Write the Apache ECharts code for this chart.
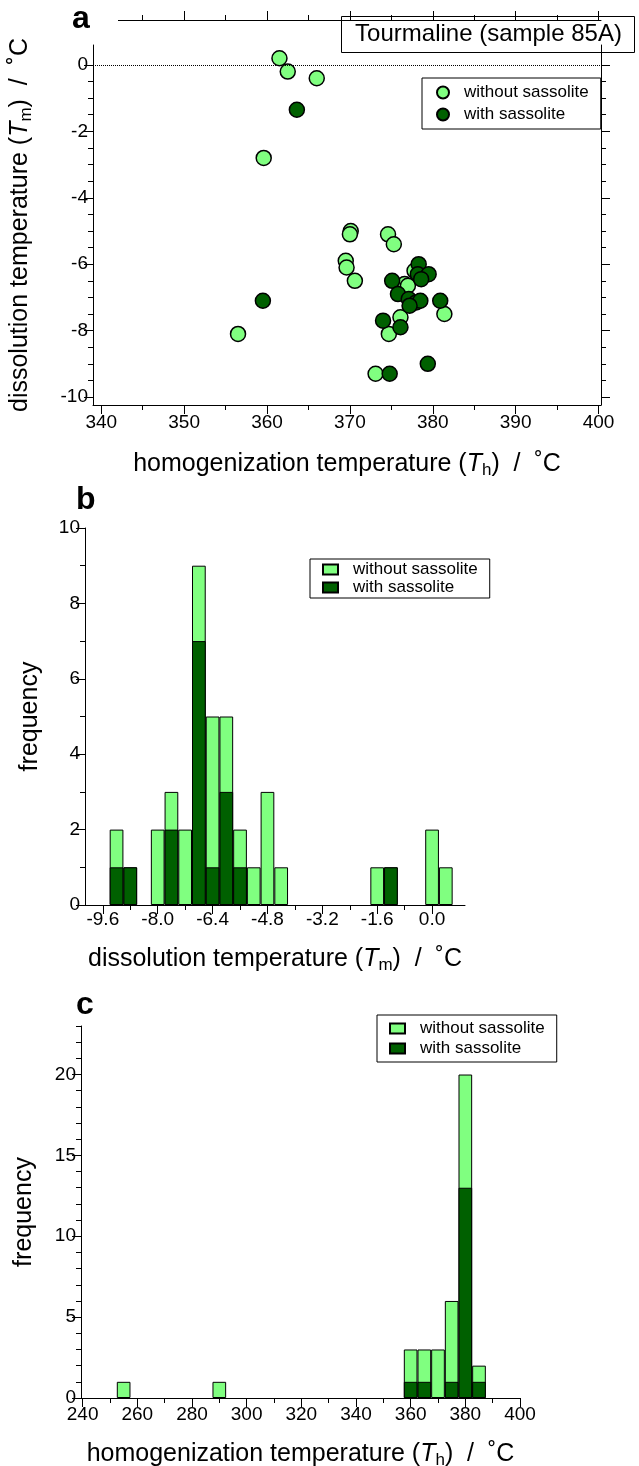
<!DOCTYPE html>
<html>
<head>
<meta charset="utf-8">
<script src="https://cdn.jsdelivr.net/npm/echarts@6/dist/echarts.min.js"></script>
<style>
  html, body { margin: 0; padding: 0; background: #fff; }
  #main { width: 639px; height: 1466px; }
</style>
</head>
<body>
<div id="main"></div>
<script>
// a: homogenization temperature (Th) vs dissolution temperature (Tm), degC
var thWithout = [361.5, 362.5, 366.0, 359.6, 356.5, 370.1, 370.0, 374.6, 375.3, 369.5,
                 369.6, 370.6, 377.8, 376.6, 377.0, 376.1, 374.7, 381.4, 373.1];
var tmWithout = [0.2, -0.2, -0.4, -2.8, -8.1, -5.0, -5.1, -5.1, -5.4, -5.9,
                 -6.1, -6.5, -6.2, -6.6, -6.65, -7.6, -8.1, -7.5, -9.3];
var thWith = [363.6, 359.5, 378.3, 378.2, 379.5, 378.6, 375.1, 375.8, 377.1, 378.0,
              378.5, 377.2, 380.9, 374.0, 376.1, 379.4, 374.8];
var tmWith = [-1.35, -7.1, -6.0, -6.3, -6.3, -6.45, -6.5, -6.9, -7.05, -7.15,
              -7.1, -7.25, -7.1, -7.7, -7.9, -9.0, -9.3];

// b: Tm histogram, bin centres, 0.4 wide
var tmBinCentre = [-9.2, -8.8, -8.0, -7.6, -7.2, -6.8, -6.4, -6.0, -5.6, -5.2, -4.8, -4.4, -1.6, -1.2, 0.0, 0.4];
var tmCountWith    = [1, 1, 0, 2, 0, 7, 1, 3, 1, 0, 0, 0, 0, 1, 0, 0];
var tmCountWithout = [1, 0, 2, 1, 2, 2, 4, 2, 1, 1, 3, 1, 1, 0, 2, 1];

// c: Th histogram, bin centres, 5 wide
var thBinCentre = [255, 290, 360, 365, 370, 375, 380, 385];
var thCountWith    = [0, 0, 1, 1, 0, 1, 13, 1];
var thCountWithout = [1, 1, 2, 2, 3, 5, 7, 1];

// tick values
var aXMajor = [340, 350, 360, 370, 380, 390, 400];
var aXMinor = [345, 355, 365, 375, 385, 395];
var aYMajor = [-10, -8, -6, -4, -2, 0];
var aYMinor = [-9.5, -9, -8.5, -7.5, -7, -6.5, -5.5, -5, -4.5, -3.5, -3, -2.5, -1.5, -1, -0.5];
var bXMajor = [-9.6, -8.0, -6.4, -4.8, -3.2, -1.6, 0.0];
var bXMinor = [-8.8, -7.2, -5.6, -4.0, -2.4, -0.8];
var bYMajor = [0, 2, 4, 6, 8, 10];
var bYMinor = [1, 3, 5, 7, 9];
var cXMajor = [240, 260, 280, 300, 320, 340, 360, 380, 400];
var cXMinor = [250, 270, 290, 310, 330, 350, 370, 390];
var cYMajor = [0, 5, 10, 15, 20];
var cYMinor = [1, 2, 3, 4, 6, 7, 8, 9, 11, 12, 13, 14, 16, 17, 18, 19, 21, 22, 23];

var FONT = '"Liberation Sans", Arial, Helvetica, sans-serif';
var LIGHT = '#80ff80';
var DARK = '#006000';
var NAME_WITHOUT = 'without sassolite';
var NAME_WITH = 'with sassolite';

var nameStyle = {
  fontSize: 25, fontFamily: FONT, color: '#000',
  rich: {
    it: { fontSize: 25, fontFamily: FONT, fontStyle: 'italic', color: '#000' },
    sub: { fontSize: 17, fontFamily: FONT, color: '#000', padding: [12, 0, 0, 0] }
  }
};

// one axis = line + ticks at given values (+ labels)
function mkAxis(grid, pos, min, max, ticks, o) {
  o = o || {};
  return {
    type: 'value', gridIndex: grid, position: pos, min: min, max: max,
    offset: o.offset || 0,
    splitLine: { show: false },
    axisLine: { show: o.line !== false, onZero: false, lineStyle: { color: '#000', width: 1 } },
    axisTick: { show: true, length: o.len || 9, inside: false, customValues: ticks,
                lineStyle: { color: '#000', width: 1 } },
    axisLabel: { show: !!o.labels, customValues: ticks, fontSize: 19, fontFamily: FONT,
                 color: '#000', margin: o.margin || 5, formatter: o.fmt },
    name: o.name || '', nameLocation: 'middle', nameGap: o.gap || 40,
    nameTextStyle: nameStyle
  };
}

var xAxes = [
  mkAxis(0, 'bottom', 339, 400.3, aXMajor, { labels: true, gap: 45, margin: 8,
    name: 'homogenization temperature ({it|T}{sub|h})  /  ˚C' }),
  mkAxis(0, 'bottom', 339, 400.3, aXMinor, { line: false, len: 5 }),
  mkAxis(0, 'top', 339, 400.3, aXMajor, { offset: 25 }),
  mkAxis(0, 'top', 339, 400.3, aXMinor, { offset: 25, line: false, len: 5 }),
  mkAxis(1, 'bottom', -10.12, 0.96, bXMajor, { labels: true, gap: 40,
    fmt: function (v) { return v.toFixed(1); },
    name: 'dissolution temperature ({it|T}{sub|m})  /  ˚C' }),
  mkAxis(1, 'bottom', -10.12, 0.96, bXMinor, { line: false, len: 5 }),
  mkAxis(2, 'bottom', 239.4, 400, cXMajor, { labels: true, gap: 42, margin: 7,
    name: 'homogenization temperature ({it|T}{sub|h})  /  ˚C' }),
  mkAxis(2, 'bottom', 239.4, 400, cXMinor, { line: false, len: 5 })
];

var yAxes = [
  mkAxis(0, 'left', -10.24, 0.6, aYMajor, { labels: true, gap: 58,
    name: 'dissolution temperature ({it|T}{sub|m})  /  ˚C' }),
  mkAxis(0, 'left', -10.24, 0.6, aYMinor, { line: false, len: 5 }),
  mkAxis(0, 'right', -10.24, 0.6, aYMajor, {}),
  mkAxis(0, 'right', -10.24, 0.6, aYMinor, { line: false, len: 5 }),
  mkAxis(1, 'left', 0, 10, bYMajor, { labels: true, gap: 42, name: 'frequency' }),
  mkAxis(1, 'left', 0, 10, bYMinor, { line: false, len: 5 }),
  mkAxis(2, 'left', 0, 23, cYMajor, { labels: true, gap: 44, name: 'frequency' }),
  mkAxis(2, 'left', 0, 23, cYMinor, { line: false, len: 5 })
];

function pairs(xs, ys) {
  return xs.map(function (x, i) { return [x, ys[i]]; });
}
// top of the stacked column = both counts together
function totals(a, b) {
  return a.map(function (v, i) { return v + b[i]; });
}

var scatterStyle = function (c) {
  return { color: c, borderColor: '#000', borderWidth: 1.5, opacity: 1 };
};
var barStyle = function (c) {
  return { color: c, borderColor: '#000', borderWidth: 1 };
};

// light column drawn full height behind, dark part drawn over it from the base
function histPair(xi, yi, xs, withCounts, withoutCounts) {
  return [
    {
      name: NAME_WITHOUT, type: 'bar', xAxisIndex: xi, yAxisIndex: yi,
      barWidth: '100%', barGap: '-100%', itemStyle: barStyle(LIGHT),
      data: pairs(xs, totals(withCounts, withoutCounts)), z: 2
    },
    {
      name: NAME_WITH, type: 'bar', xAxisIndex: xi, yAxisIndex: yi,
      barWidth: '100%', barGap: '-100%', itemStyle: barStyle(DARK),
      data: pairs(xs, withCounts).filter(function (d) { return d[1] > 0; }), z: 3
    }
  ];
}

var series = [
  {
    name: NAME_WITHOUT, type: 'scatter', xAxisIndex: 0, yAxisIndex: 0,
    symbol: 'circle', symbolSize: 15, itemStyle: scatterStyle(LIGHT),
    data: pairs(thWithout, tmWithout), z: 3,
    markLine: {
      silent: true, symbol: 'none', label: { show: false },
      lineStyle: { type: 'dotted', color: '#000', width: 1 },
      data: [{ yAxis: 0 }]
    }
  },
  {
    name: NAME_WITH, type: 'scatter', xAxisIndex: 0, yAxisIndex: 0,
    symbol: 'circle', symbolSize: 15, itemStyle: scatterStyle(DARK),
    data: pairs(thWith, tmWith), z: 4
  }
].concat(
  histPair(4, 4, tmBinCentre, tmCountWith, tmCountWithout),
  histPair(6, 6, thBinCentre, thCountWith, thCountWithout)
);

function mkLegend(left, top, icon, w, h, pad, gap) {
  return {
    left: left, top: top, orient: 'vertical', icon: icon,
    itemWidth: w, itemHeight: h, itemGap: gap,
    padding: pad,
    backgroundColor: '#fff', borderColor: '#000', borderWidth: 1, borderRadius: 0,
    selectedMode: false,
    textStyle: { fontSize: 17, fontFamily: FONT, color: '#000', padding: [0, 0, 0, 10] },
    data: [NAME_WITHOUT, NAME_WITH]
  };
}

function letter(ch, x, y) {
  return {
    type: 'text', left: x, top: y, z: 100,
    style: { text: ch, font: 'bold 32px ' + FONT, fill: '#000' }
  };
}

var option = {
  animation: false,
  backgroundColor: '#fff',
  grid: [
    { left: 93, top: 45, width: 508, height: 360, outerBoundsMode: 'none' },
    { left: 85, top: 528, width: 380, height: 377, outerBoundsMode: 'none' },
    { left: 81, top: 1026, width: 439, height: 372, outerBoundsMode: 'none' }
  ],
  xAxis: xAxes,
  yAxis: yAxes,
  legend: [
    mkLegend(422, 78, 'circle', 12, 12, [6, 12, 6, 14], 5),
    mkLegend(310, 559, 'rect', 15, 10, [2, 12, 2, 12], 1),
    mkLegend(377, 1015, 'rect', 15, 10, [5, 12, 5, 12], 3)
  ],
  graphic: [
    // the mirrored top axis of panel a starts a little right of the frame
    { type: 'rect', left: 92, top: 8, z: 90, shape: { width: 26, height: 15 },
      style: { fill: '#fff' } },
    letter('a', 72, 3),
    letter('b', 76, 484),
    letter('c', 76, 989),
    {
      type: 'group', left: 341, top: 16, z: 100,
      children: [
        { type: 'rect', shape: { x: 0, y: 0, width: 293, height: 36 },
          style: { fill: '#fff', stroke: '#000', lineWidth: 1 } },
        { type: 'text', x: 147, y: 18,
          style: { text: 'Tourmaline (sample 85A)', font: '24px ' + FONT, fill: '#000',
                   textAlign: 'center', textVerticalAlign: 'middle' } }
      ]
    }
  ],
  series: series
};

var chart = echarts.init(document.getElementById('main'));
chart.setOption(option);
</script>
</body>
</html>
